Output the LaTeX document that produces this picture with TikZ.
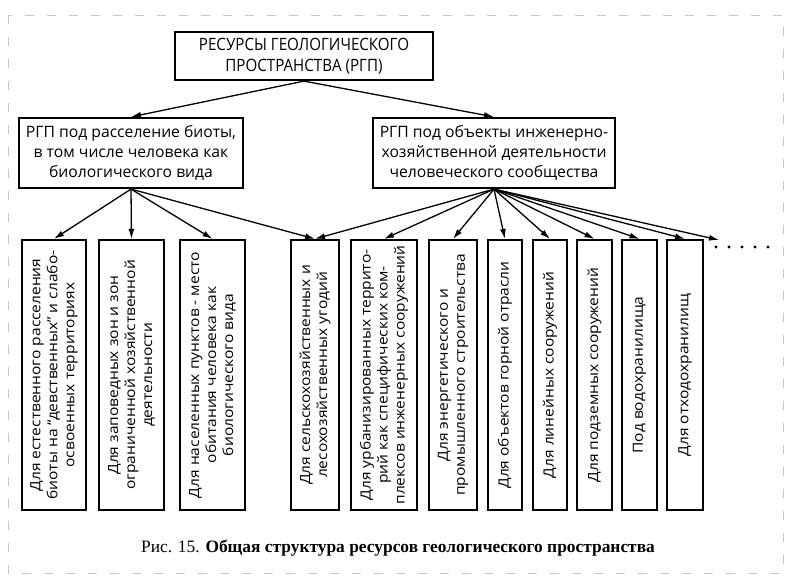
\documentclass[tikz,border=0pt]{standalone}
\usepackage{fontspec}
\setmainfont{Liberation Serif}
\newfontfamily\boxfont{Open Sans}
\newfontfamily\leaffont[FakeStretch=1.11]{Open Sans}
\newfontfamily\topfont[FakeStretch=0.89]{Open Sans}
\usetikzlibrary{arrows.meta}
\tikzset{
  frame/.style={draw, line width=2.2bp, inner sep=0pt},
  topbox/.style={frame, minimum width=258bp, minimum height=48bp, align=center,
     font=\topfont\fontsize{17bp}{21bp}\selectfont},
  midbox/.style={frame, minimum height=70bp, align=center,
     font=\boxfont\fontsize{15.7bp}{20bp}\selectfont},
  leaf/.style={frame, rotate=90, minimum width=270bp, align=center,
     font=\leaffont\fontsize{14bp}{17bp}\selectfont},
  arr/.style={line width=1.3bp, -{Latex[length=10bp,width=6bp]}},
}
\begin{document}
\begin{tikzpicture}[x=1bp,y=-1bp]
\useasboundingbox (0,0) rectangle (792,585);
\draw[gray!45, line width=0.8bp, dash pattern=on 9bp off 13bp] (8,15) rectangle (783,573);

\node[topbox] (top) at (304,56) {РЕСУРСЫ ГЕОЛОГИЧЕСКОГО\\ПРОСТРАНСТВА (РГП)};
\node[midbox, minimum width=224bp] (L) at (131,153) {РГП под расселение биоты,\\в том числе человека как\\биологического вида};
\node[midbox, minimum width=242bp] (R) at (494,153) {РГП под объекты инженерно-\\хозяйственной деятельности\\человеческого сообщества};

\node[leaf, minimum height=64bp] (b1) at (54,375) {Для естественного расселения\\биоты на “девственных” и слабо-\\освоенных территориях};
\node[leaf, minimum height=65bp] (b2) at (131.5,375) {Для заповедных зон и зон\\ограниченной хозяйственной\\деятельности};
\node[leaf, minimum height=65bp] (b3) at (212.5,375) {Для населенных пунктов - место\\обитания человека как\\биологического вида};
\node[leaf, minimum height=48bp] (b4) at (315,375) {Для сельскохозяйственных и\\лесохозяйственных угодий};
\node[leaf, minimum height=66bp] (b5) at (384,375) {Для урбанизированных террито-\\рий как специфических ком-\\плексов инженерных сооружений};
\node[leaf, minimum height=48bp] (b6) at (453,375) {Для энергетического и\\промышленного строительства};
\node[leaf, minimum height=34bp] (b7) at (505,375) {Для объектов горной отрасли};
\node[leaf, minimum height=34bp] (b8) at (550,375) {Для линейных сооружений};
\node[leaf, minimum height=35bp] (b9) at (594.5,375) {Для подземных сооружений};
\node[leaf, minimum height=35bp] (b10) at (639.5,375) {Под водохранилища};
\node[leaf, minimum height=36bp] (b11) at (685,375) {Для отходохранилищ};

\coordinate (more) at (719,240);
\foreach \i in {0,...,4} \fill (716+13*\i,247) circle (1.6bp);

\draw[arr] (top.south) -- (L.north);
\draw[arr] (top.south) -- (R.north);
\foreach \b in {b1,b2,b3,b4} \draw[arr] (L.south) -- (\b.east);
\foreach \b in {b4,b5,b6,b7,b8,b9,b10,b11} \draw[arr] (R.south) -- (\b.east);
\draw[arr] (R.south) -- (more);

\node[font=\fontsize{17.4bp}{20bp}\selectfont] (cap) at (398,548) {Рис. 15. \textbf{Общая структура ресурсов геологического пространства}};
\end{tikzpicture}
\end{document}
